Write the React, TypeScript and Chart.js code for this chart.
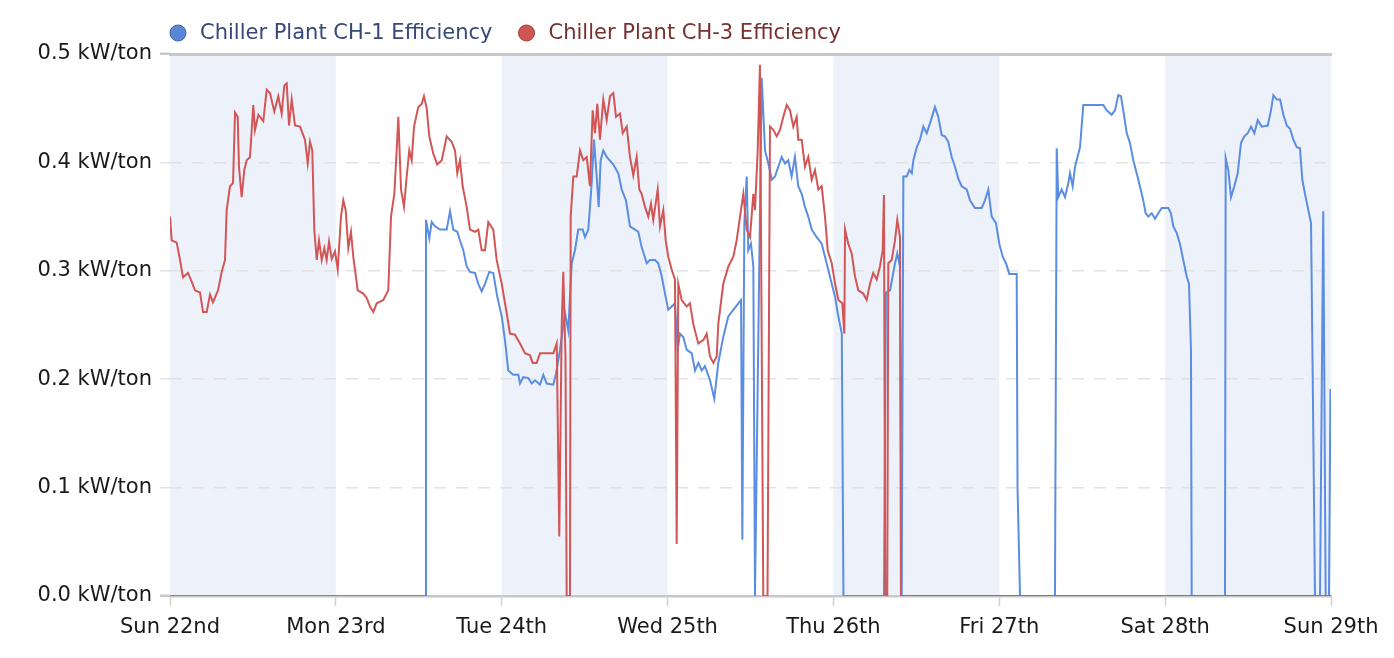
import React, { useEffect, useRef } from "react";
import { Chart, registerables } from "chart.js";

Chart.register(...registerables);

// ---- Data (x = hours since Sun 22nd 00:00, y = kW/ton) ----
const dayLabels = ["Sun 22nd", "Mon 23rd", "Tue 24th", "Wed 25th", "Thu 26th", "Fri 27th", "Sat 28th", "Sun 29th"];
const shadedDays = [0, 2, 4, 6];
const seriesLabels = ["Chiller Plant CH-1 Efficiency", "Chiller Plant CH-3 Efficiency"];

const ch1Hours = [0, 36.90, 37.04, 37.52, 37.87, 38.35, 39.07, 40.04, 40.52, 40.99, 41.57, 41.96, 42.44, 42.93, 43.41, 44.13, 44.61, 45.10, 45.58, 46.20, 46.78, 47.36, 48.00, 48.47, 48.95, 49.67, 50.40, 50.65, 51.12, 51.85, 52.34, 52.82, 53.54, 54.02, 54.51, 55.47, 55.85, 56.43, 57.16, 57.63, 58.13, 58.60, 59.08, 59.72, 60.05, 60.53, 61.02, 61.35, 61.74, 62.03, 62.32, 62.70, 63.19, 64.15, 64.87, 65.36, 65.98, 66.56, 67.28, 67.76, 68.25, 68.98, 69.46, 70.18, 70.66, 71.15, 71.63, 72.10, 72.60, 73.07, 73.46, 73.80, 74.28, 74.77, 75.49, 75.97, 76.45, 76.94, 77.41, 78.14, 78.76, 79.34, 80.06, 80.79, 81.51, 82.24, 82.63, 82.82, 83.11, 83.45, 83.68, 84.07, 84.41, 84.65, 85.62, 86.10, 86.58, 87.07, 87.55, 88.02, 88.51, 88.99, 89.46, 89.95, 90.43, 90.91, 91.41, 91.88, 92.36, 92.86, 93.58, 94.30, 95.02, 95.75, 96.24, 96.62, 97.21, 97.45, 103.31, 103.60, 104.19, 104.91, 105.24, 105.63, 105.88, 106.12, 106.61, 106.99, 107.34, 107.57, 108.06, 108.53, 109.01, 109.50, 109.97, 110.69, 111.17, 111.67, 112.14, 112.62, 113.11, 113.59, 114.07, 114.56, 115.28, 115.76, 116.48, 117.45, 117.93, 118.41, 118.90, 119.52, 120.00, 120.49, 120.97, 121.45, 122.52, 122.64, 123.0, 128.06, 128.31, 128.54, 129.03, 129.51, 129.99, 130.23, 130.62, 130.96, 131.68, 132.16, 133.13, 135.05, 135.54, 136.26, 136.74, 137.22, 137.61, 137.94, 138.44, 138.91, 139.39, 139.88, 140.35, 140.83, 141.18, 141.56, 142.06, 142.53, 143.01, 143.50, 144.45, 144.84, 145.18, 145.67, 146.14, 146.62, 147.11, 147.45, 147.74, 147.84, 152.66, 152.76, 153.14, 153.53, 154.01, 154.50, 154.98, 155.46, 155.95, 156.43, 156.91, 157.40, 157.98, 158.85, 159.32, 159.66, 160.15, 160.63, 161.11, 161.60, 162.07, 162.55, 163.04, 163.51, 163.85, 164.24, 164.72, 165.11, 165.44, 165.68, 166.41, 166.88, 167.23, 167.71, 167.92, 168];
const ch1Values = [0, 0, 0.347, 0.33, 0.345, 0.341, 0.338, 0.338, 0.355, 0.338, 0.336, 0.328, 0.319, 0.304, 0.299, 0.298, 0.288, 0.281, 0.288, 0.299, 0.298, 0.276, 0.258, 0.236, 0.208, 0.204, 0.204, 0.196, 0.202, 0.201, 0.196, 0.199, 0.195, 0.204, 0.196, 0.195, 0.205, 0.227, 0.261, 0.245, 0.307, 0.319, 0.338, 0.338, 0.331, 0.338, 0.381, 0.421, 0.387, 0.359, 0.402, 0.411, 0.405, 0.398, 0.39, 0.375, 0.365, 0.341, 0.338, 0.336, 0.322, 0.307, 0.31, 0.31, 0.307, 0.295, 0.279, 0.264, 0.267, 0.27, 0.227, 0.242, 0.239, 0.227, 0.224, 0.208, 0.215, 0.208, 0.212, 0.199, 0.182, 0.215, 0.239, 0.258, 0.264, 0.27, 0.273, 0.052, 0.344, 0.387, 0.319, 0.325, 0.304, 0, 0.478, 0.411, 0.399, 0.384, 0.387, 0.396, 0.405, 0.399, 0.402, 0.387, 0.405, 0.378, 0.371, 0.359, 0.35, 0.338, 0.331, 0.325, 0.307, 0.288, 0.276, 0.261, 0.242, 0, 0, 0.28, 0.282, 0.307, 0.316, 0.304, 0, 0.387, 0.387, 0.393, 0.39, 0.402, 0.414, 0.421, 0.433, 0.427, 0.436, 0.451, 0.442, 0.425, 0.424, 0.419, 0.405, 0.396, 0.385, 0.378, 0.375, 0.365, 0.358, 0.358, 0.365, 0.375, 0.35, 0.344, 0.325, 0.313, 0.307, 0.297, 0.297, 0.1, 0, 0, 0.413, 0.368, 0.375, 0.368, 0.381, 0.39, 0.378, 0.396, 0.414, 0.453, 0.453, 0.453, 0.448, 0.444, 0.448, 0.462, 0.461, 0.448, 0.427, 0.418, 0.402, 0.39, 0.378, 0.365, 0.353, 0.35, 0.353, 0.348, 0.353, 0.358, 0.358, 0.353, 0.341, 0.335, 0.325, 0.31, 0.295, 0.288, 0.227, 0, 0, 0.404, 0.393, 0.368, 0.378, 0.39, 0.418, 0.424, 0.427, 0.433, 0.427, 0.439, 0.433, 0.434, 0.448, 0.462, 0.458, 0.458, 0.444, 0.434, 0.431, 0.421, 0.414, 0.413, 0.384, 0.371, 0.356, 0.344, 0.15, 0, 0, 0.355, 0, 0, 0.19, 0.19];

const ch3Hours = [0.0, 0.25, 0.97, 1.45, 1.88, 2.60, 3.14, 3.62, 4.34, 4.78, 5.31, 5.79, 6.22, 6.95, 7.48, 7.96, 8.20, 8.68, 9.12, 9.41, 9.80, 9.98, 10.37, 10.75, 11.10, 11.58, 12.05, 12.30, 12.78, 13.50, 13.99, 14.47, 15.09, 15.67, 16.16, 16.54, 16.89, 17.22, 17.61, 18.09, 18.81, 19.53, 19.93, 20.26, 20.59, 20.88, 21.23, 21.56, 21.95, 22.33, 22.67, 23.01, 23.40, 23.88, 24.27, 24.74, 25.08, 25.42, 25.80, 26.19, 26.52, 27.16, 27.97, 28.46, 28.94, 29.42, 29.91, 30.86, 31.59, 31.98, 32.46, 32.80, 33.04, 33.43, 33.86, 34.25, 34.62, 34.97, 35.31, 35.93, 36.42, 36.75, 37.14, 37.52, 38.10, 38.68, 39.32, 40.04, 40.76, 41.24, 41.57, 41.96, 42.35, 42.93, 43.41, 44.13, 44.61, 45.10, 45.58, 46.06, 46.78, 47.27, 48.00, 48.72, 49.20, 49.92, 50.65, 51.37, 52.09, 52.48, 53.06, 53.54, 54.51, 55.47, 55.96, 56.33, 56.68, 56.91, 57.23, 57.40, 57.88, 57.98, 58.36, 58.85, 59.33, 59.80, 60.30, 60.77, 61.16, 61.50, 61.83, 62.22, 62.70, 63.19, 63.67, 64.15, 64.54, 65.12, 65.51, 66.09, 66.56, 67.04, 67.53, 67.91, 68.25, 68.73, 69.21, 69.60, 69.93, 70.57, 70.90, 71.38, 71.73, 72.10, 72.60, 73.07, 73.32, 73.55, 74.04, 74.77, 75.24, 75.72, 76.44, 77.17, 77.66, 78.14, 78.62, 79.11, 79.34, 80.06, 80.79, 81.51, 82.00, 82.48, 82.96, 83.45, 83.93, 84.41, 84.65, 85.04, 85.37, 85.85, 86.46, 86.82, 87.30, 87.79, 88.27, 88.75, 89.24, 89.72, 90.19, 90.68, 90.91, 91.41, 91.88, 92.36, 92.86, 93.33, 93.81, 94.30, 94.78, 95.17, 95.75, 96.24, 96.71, 97.29, 97.58, 97.68, 98.15, 98.64, 99.12, 99.60, 100.32, 100.81, 101.29, 101.76, 102.26, 102.73, 103.13, 103.31, 103.50, 103.79, 103.94, 104.43, 104.91, 105.24, 105.63, 105.77, 168];
const ch3Values = [0.35, 0.328, 0.326, 0.31, 0.294, 0.298, 0.29, 0.282, 0.28, 0.262, 0.262, 0.278, 0.271, 0.282, 0.299, 0.31, 0.356, 0.378, 0.381, 0.446, 0.442, 0.396, 0.368, 0.393, 0.402, 0.405, 0.453, 0.43, 0.444, 0.438, 0.467, 0.464, 0.447, 0.461, 0.445, 0.471, 0.473, 0.434, 0.458, 0.434, 0.433, 0.421, 0.399, 0.419, 0.411, 0.338, 0.31, 0.328, 0.31, 0.321, 0.31, 0.327, 0.311, 0.318, 0.301, 0.35, 0.365, 0.356, 0.321, 0.336, 0.313, 0.282, 0.279, 0.275, 0.267, 0.262, 0.27, 0.273, 0.282, 0.35, 0.371, 0.411, 0.442, 0.375, 0.359, 0.387, 0.411, 0.402, 0.433, 0.451, 0.454, 0.461, 0.45, 0.424, 0.408, 0.398, 0.402, 0.424, 0.419, 0.411, 0.39, 0.402, 0.378, 0.359, 0.338, 0.336, 0.338, 0.319, 0.319, 0.345, 0.338, 0.31, 0.288, 0.261, 0.242, 0.241, 0.233, 0.224, 0.222, 0.215, 0.215, 0.224, 0.224, 0.224, 0.233, 0.055, 0.25, 0.299, 0.22, 0, 0, 0.35, 0.387, 0.387, 0.411, 0.402, 0.405, 0.378, 0.448, 0.427, 0.454, 0.421, 0.458, 0.439, 0.461, 0.464, 0.442, 0.445, 0.427, 0.433, 0.405, 0.388, 0.405, 0.375, 0.371, 0.359, 0.35, 0.362, 0.347, 0.375, 0.341, 0.356, 0.328, 0.313, 0.301, 0.292, 0.048, 0.288, 0.273, 0.267, 0.27, 0.251, 0.233, 0.236, 0.242, 0.221, 0.215, 0.221, 0.251, 0.288, 0.304, 0.313, 0.328, 0.35, 0.371, 0.338, 0.331, 0.371, 0.356, 0.411, 0.49, 0, 0, 0.433, 0.43, 0.424, 0.43, 0.442, 0.453, 0.448, 0.433, 0.442, 0.421, 0.421, 0.396, 0.405, 0.384, 0.393, 0.375, 0.378, 0.35, 0.319, 0.307, 0.288, 0.273, 0.27, 0.242, 0.338, 0.325, 0.316, 0.295, 0.282, 0.279, 0.273, 0.288, 0.298, 0.292, 0.304, 0.319, 0.37, 0, 0, 0.307, 0.31, 0.328, 0.347, 0.331, 0, 0];

// ---- Styles ----
const FONT = '"DejaVu Sans", Verdana, sans-serif';
const lineColors = ["#5b8de2", "#d25656"];
const legendFill = ["#5a86d6", "#cf5753"];
const legendStroke = ["#3f65b0", "#a63c3a"];
const legendText = ["#36477a", "#773030"];
const bandColor = "rgba(220,228,245,0.52)";
const gridGrey = "#e2e2e2";
const axisGrey = "#c8c8c8";

const isEdge = (ctx: any) => {
  const v = ctx && ctx.tick ? ctx.tick.value : null;
  return v !== null && (Math.abs(v) < 1e-6 || Math.abs(v - 0.5) < 1e-6);
};

const bandsPlugin = {
  id: "dayBands",
  beforeDraw(chart: any) {
    const { ctx, chartArea, scales } = chart;
    const x = scales.x;
    ctx.save();
    ctx.fillStyle = bandColor;
    shadedDays.forEach((d) => {
      const x0 = x.getPixelForValue(d * 24);
      const x1 = x.getPixelForValue((d + 1) * 24);
      ctx.fillRect(x0, chartArea.top, x1 - x0, chartArea.bottom - chartArea.top);
    });
    ctx.restore();
  },
};

const legendPlugin = {
  id: "circleLegend",
  afterDraw(chart: any) {
    const { ctx, chartArea } = chart;
    ctx.save();
    ctx.font = `21px ${FONT}`;
    ctx.textBaseline = "middle";
    ctx.textAlign = "left";
    let cx = chartArea.left + 8;
    const cy = 33;
    chart.data.datasets.forEach((ds: any, i: number) => {
      ctx.beginPath();
      ctx.arc(cx, cy, 8, 0, Math.PI * 2);
      ctx.fillStyle = legendFill[i];
      ctx.fill();
      ctx.lineWidth = 1;
      ctx.strokeStyle = legendStroke[i];
      ctx.stroke();
      ctx.fillStyle = legendText[i];
      ctx.fillText(ds.label, cx + 22, cy + 1);
      cx += 22 + ctx.measureText(ds.label).width + 34;
    });
    ctx.restore();
  },
};

export default function App() {
  const canvasRef = useRef<HTMLCanvasElement | null>(null);

  useEffect(() => {
    if (!canvasRef.current) return;
    Chart.defaults.font.family = FONT;
    const chart = new Chart(canvasRef.current, {
      type: "line",
      data: {
        datasets: [
          {
            label: seriesLabels[0],
            data: ch1Hours.map((h, i) => ({ x: h, y: ch1Values[i] })),
            borderColor: lineColors[0],
            backgroundColor: lineColors[0],
            borderWidth: 2,
            pointRadius: 0,
            tension: 0,
            fill: false,
            order: 1,
          },
          {
            label: seriesLabels[1],
            data: ch3Hours.map((h, i) => ({ x: h, y: ch3Values[i] })),
            borderColor: lineColors[1],
            backgroundColor: lineColors[1],
            borderWidth: 2,
            pointRadius: 0,
            tension: 0,
            fill: false,
            order: 0,
          },
        ],
      },
      options: {
        responsive: false,
        animation: false,
        layout: { padding: { top: 54, right: 63, bottom: 0, left: 0 } },
        plugins: {
          legend: { display: false },
          tooltip: { enabled: false },
        },
        scales: {
          x: {
            type: "linear",
            min: 0,
            max: 168,
            afterFit: (s: any) => {
              s.height = 62;
            },
            ticks: {
              stepSize: 24,
              autoSkip: false,
              maxRotation: 0,
              padding: 9,
              color: "#1a1a1a",
              font: { size: 21 },
              callback: (v: any) => {
                const idx = Math.round(Number(v) / 24);
                return Math.abs(Number(v) - idx * 24) < 1e-6 ? dayLabels[idx] : "";
              },
            },
            grid: {
              drawOnChartArea: false,
              drawTicks: true,
              tickLength: 10,
              tickColor: "#d0d0d0",
              tickWidth: 1.5,
            },
            border: { display: true, color: axisGrey, width: 2.5 },
          },
          xTop: {
            type: "linear",
            position: "top",
            min: 0,
            max: 168,
            afterFit: (s: any) => {
              s.height = 0;
            },
            ticks: { display: false },
            grid: { display: false, drawTicks: false },
            border: { display: true, color: axisGrey, width: 3 },
          },
          y: {
            min: 0,
            max: 0.5,
            afterFit: (s: any) => {
              s.width = 170;
            },
            ticks: {
              stepSize: 0.1,
              padding: 8,
              color: "#1a1a1a",
              font: { size: 21 },
              callback: (v: any) => `${Number(v).toFixed(1)} kW/ton`,
            },
            grid: {
              color: (ctx: any) => (isEdge(ctx) ? "rgba(0,0,0,0)" : gridGrey),
              lineWidth: 1.5,
              drawTicks: true,
              tickLength: 10,
              tickColor: (ctx: any) => (isEdge(ctx) ? axisGrey : gridGrey),
              tickWidth: (ctx: any) => (isEdge(ctx) ? 2.5 : 1.5),
              tickBorderDash: (ctx: any) => (isEdge(ctx) ? [] : [12, 10]),
            },
            border: { display: false, dash: [12, 10] },
          },
        },
      },
      plugins: [bandsPlugin, legendPlugin],
    } as any);
    return () => chart.destroy();
  }, []);

  return (
    <div style={{ position: "fixed", left: 0, top: 0, width: 1394, height: 658, background: "#fff" }}>
      <canvas ref={canvasRef} width={1394} height={658} style={{ display: "block" }} />
    </div>
  );
}
